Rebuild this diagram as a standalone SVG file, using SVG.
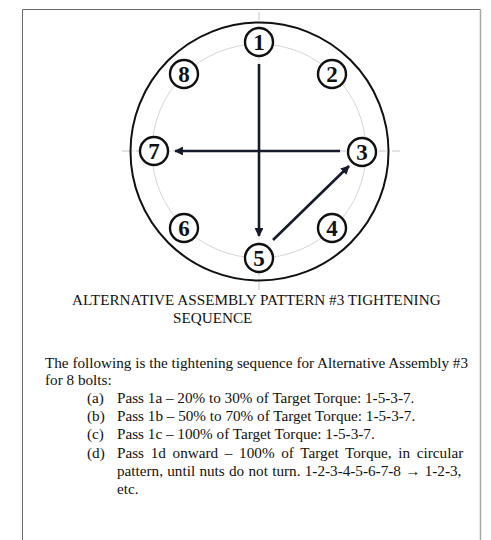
<svg xmlns="http://www.w3.org/2000/svg" width="491" height="540" viewBox="0 0 491 540">
<style>
.frame{fill:none;stroke:#6a6a6a;stroke-width:1}
.cross{stroke:#b8b8b8;stroke-width:0.8;stroke-dasharray:8 2 1.5 2;fill:none}
.flange{fill:none;stroke:#111;stroke-width:2}
.pcd{fill:none;stroke:#d6d6d6;stroke-width:1}
.bolt circle{fill:#fff;stroke:#111;stroke-width:2.4}
.bolt text{font-family:"Liberation Serif","Times New Roman",serif;font-weight:bold;font-size:23px;fill:#111;text-anchor:middle}
.arrow{stroke:#151b2b;stroke-width:2.6;fill:none;marker-end:url(#ah)}
.t{font-family:"Liberation Serif","Times New Roman",serif;font-size:15.2px;fill:#111}
</style>
<defs>
<marker id="ah" viewBox="0 0 10 10" refX="9" refY="5" markerWidth="3.4" markerHeight="3.4" orient="auto" markerUnits="strokeWidth">
<path d="M0,0 L10,5 L0,10 Z" fill="#151b2b"/>
</marker>
</defs>
<rect width="491" height="540" fill="#fff"/>
<path class="frame" d="M22.5,540 V9.5 H480.5"/>
<line x1="480.5" y1="9.5" x2="480.5" y2="540" stroke="#a8a8a8" stroke-width="1.5"/>
<g id="crosshair">
<line class="cross" x1="122" y1="151" x2="402" y2="151"/>
<line class="cross" x1="259" y1="12" x2="259" y2="290"/>
</g>
<g id="flange">
<circle class="flange" cx="259.5" cy="151.5" r="129"/>
<circle class="pcd" cx="259" cy="151" r="107"/>
</g>
<g id="connectors">
<line class="arrow" x1="259" y1="64" x2="259" y2="236"/>
<line class="arrow" x1="340" y1="151" x2="175" y2="151"/>
<line class="arrow" x1="273" y1="240" x2="349" y2="166"/>
</g>
<g id="bolt1" class="bolt"><circle cx="259" cy="42" r="14"/><text x="259" y="50">1</text></g>
<g id="bolt2" class="bolt"><circle cx="332" cy="74" r="14"/><text x="332" y="82">2</text></g>
<g id="bolt3" class="bolt"><circle cx="362" cy="152" r="14"/><text x="362" y="160">3</text></g>
<g id="bolt4" class="bolt"><circle cx="332" cy="228" r="14"/><text x="332" y="236">4</text></g>
<g id="bolt5" class="bolt"><circle cx="259" cy="258" r="14"/><text x="259" y="266">5</text></g>
<g id="bolt6" class="bolt"><circle cx="184" cy="228" r="14"/><text x="184" y="236">6</text></g>
<g id="bolt7" class="bolt"><circle cx="154" cy="151" r="14"/><text x="154" y="159">7</text></g>
<g id="bolt8" class="bolt"><circle cx="184" cy="74" r="14"/><text x="184" y="82">8</text></g>
<g id="caption">
<text class="t" x="72" y="305">ALTERNATIVE ASSEMBLY PATTERN #3 TIGHTENING</text>
<text class="t" x="173" y="323">SEQUENCE</text>
<text class="t" x="45" y="368">The following is the tightening sequence for Alternative Assembly #3</text>
<text class="t" x="45" y="385">for 8 bolts:</text>
<text class="t" x="87" y="403">(a)</text>
<text class="t" x="117" y="403">Pass 1a – 20% to 30% of Target Torque: 1-5-3-7.</text>
<text class="t" x="87" y="421">(b)</text>
<text class="t" x="117" y="421">Pass 1b – 50% to 70% of Target Torque: 1-5-3-7.</text>
<text class="t" x="87" y="439">(c)</text>
<text class="t" x="117" y="439">Pass 1c – 100% of Target Torque: 1-5-3-7.</text>
<text class="t" x="87" y="458">(d)</text>
<text class="t" x="117" y="458" style="word-spacing:2.9px">Pass 1d onward – 100% of Target Torque, in circular</text>
<text class="t" x="117" y="476" style="word-spacing:0.5px">pattern, until nuts do not turn. 1-2-3-4-5-6-7-8 → 1-2-3,</text>
<text class="t" x="117" y="494">etc.</text>
</g>
</svg>
